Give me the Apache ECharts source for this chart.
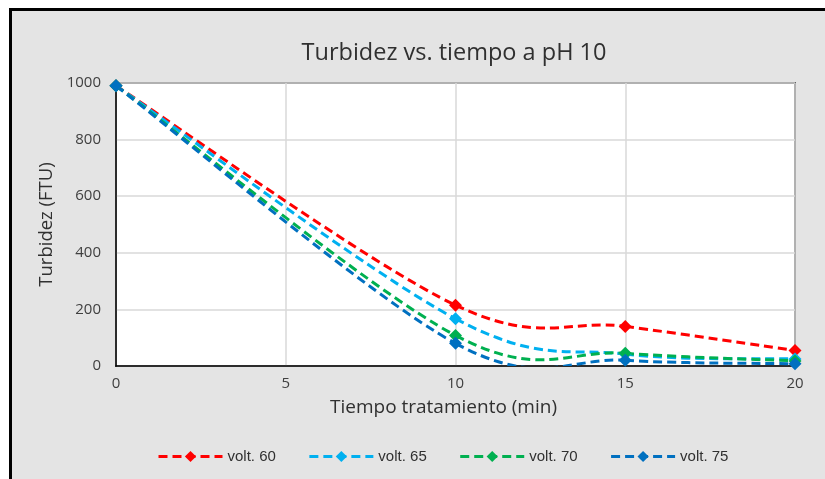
<!DOCTYPE html>
<html><head><meta charset="utf-8">
<script src="https://cdn.jsdelivr.net/npm/echarts@6/dist/echarts.min.js"></script>
<style>html,body{margin:0;padding:0;background:#fff}#c{width:825px;height:479px}</style>
</head><body><div id="c"></div>
<script>
const times = [0, 10, 15, 20];
const volt60 = [990, 215, 140, 55];
const volt65 = [990, 167, 42, 25];
const volt70 = [990, 108, 45, 18];
const volt75 = [990, 80, 20, 8];
const seriesNames = ['volt. 60', 'volt. 65', 'volt. 70', 'volt. 75'];
const colors = ['#ff0000', '#00b0f0', '#00b050', '#0070c0'];
const xTicks = [0, 5, 10, 15, 20];
const yTicks = [0, 200, 400, 600, 800, 1000];

const all = [volt60, volt65, volt70, volt75];
const DASH = [9, 5];

function curveSeries(vals, i) {
  return {
    type: 'custom', name: seriesNames[i] + ' curve', coordinateSystem: 'cartesian2d',
    clip: true, silent: true, z: 2,
    data: times.map((t, j) => [t, vals[j]]),
    renderItem: (params, api) => {
      if (params.dataIndex !== 0) return null;
      const pts = times.map((t, j) => api.coord([t, vals[j]]));
      const children = [];
      const k6 = 1 / 6;
      for (let k = 0; k < pts.length - 1; k++) {
        const p0 = pts[k - 1] || pts[k], p1 = pts[k], p2 = pts[k + 1], p3 = pts[k + 2] || pts[k + 1];
        children.push({
          type: 'bezierCurve',
          shape: {
            x1: p1[0], y1: p1[1], x2: p2[0], y2: p2[1],
            cpx1: p1[0] + (p2[0] - p0[0]) * k6, cpy1: p1[1] + (p2[1] - p0[1]) * k6,
            cpx2: p2[0] - (p3[0] - p1[0]) * k6, cpy2: p2[1] - (p3[1] - p1[1]) * k6
          },
          style: {stroke: colors[i], lineWidth: 3, lineDash: DASH, fill: null}
        });
      }
      return {type: 'group', children};
    }
  };
}

function markerSeries(vals, i) {
  return {
    name: seriesNames[i], type: 'line', z: 3,
    data: times.map((t, j) => [t, vals[j]]),
    symbol: 'diamond', symbolSize: 13,
    itemStyle: {color: colors[i]},
    lineStyle: {width: 0, opacity: 0, color: colors[i]}
  };
}

const chart = echarts.init(document.getElementById('c'));
chart.setOption({
  animation: false,
  backgroundColor: '#ffffff',
  graphic: [
    {type: 'rect', z: -10, shape: {x: 10, y: 9, width: 815, height: 470}, style: {fill: '#e4e4e4', stroke: null}},
    {type: 'line', z: -9, shape: {x1: 10, y1: 9.5, x2: 825, y2: 9.5}, style: {stroke: '#000', lineWidth: 3}},
    {type: 'line', z: -9, shape: {x1: 10.5, y1: 8, x2: 10.5, y2: 479}, style: {stroke: '#000', lineWidth: 3}}
  ],
  title: {
    text: 'Turbidez vs. tiempo a pH 10',
    left: 449, top: 36, textAlign: 'center',
    textStyle: {fontFamily: 'Open Sans', fontWeight: 'normal', fontSize: 23.5, color: '#303030'}
  },
  grid: {left: 116, right: 30, top: 83, bottom: 113, show: true, backgroundColor: '#fff', borderColor: '#000', borderWidth: 1.5},
  legend: {
    top: 444, left: 152, itemGap: 32, itemWidth: 64, itemHeight: 14,
    textStyle: {fontFamily: 'Liberation Sans', fontSize: 15, color: '#303030'},
    data: seriesNames.map((n, i) => ({
      name: n,
      lineStyle: {color: colors[i], width: 3, type: DASH, opacity: 1},
      itemStyle: {color: colors[i]}
    }))
  },
  xAxis: {
    type: 'value', min: 0, max: 20, interval: 5,
    name: 'Tiempo tratamiento (min)', nameLocation: 'middle', nameGap: 32,
    nameTextStyle: {fontFamily: 'Open Sans', fontSize: 19, color: '#303030', padding: [0, 24, 0, 0]},
    axisLine: {lineStyle: {color: '#000', width: 1.5}},
    axisTick: {show: false},
    axisLabel: {fontFamily: 'Open Sans', fontSize: 15, color: '#404040', margin: 10,
      formatter: v => xTicks.includes(v) ? String(v) : ''},
    splitLine: {show: true, lineStyle: {color: '#d9d9d9', width: 1.5}}
  },
  yAxis: {
    type: 'value', min: 0, max: 1000, interval: 200,
    name: 'Turbidez (FTU)', nameLocation: 'middle', nameGap: 58,
    nameTextStyle: {fontFamily: 'Open Sans', fontSize: 18.5, color: '#303030'},
    axisLine: {show: true, lineStyle: {color: '#000', width: 1.5}},
    axisTick: {show: false},
    axisLabel: {fontFamily: 'Open Sans', fontSize: 15, color: '#404040', margin: 15,
      formatter: v => yTicks.includes(v) ? String(v) : ''},
    splitLine: {show: true, lineStyle: {color: '#d9d9d9', width: 1.5}}
  },
  series: all.map((a, i) => curveSeries(a, i)).concat(all.map((a, i) => markerSeries(a, i)))
});
</script></body></html>
